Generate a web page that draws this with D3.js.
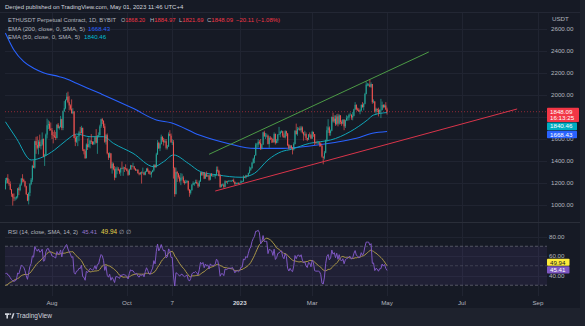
<!DOCTYPE html>
<html><head><meta charset="utf-8">
<script src="https://cdn.jsdelivr.net/npm/d3@7"></script>
<style>
html,body{margin:0;padding:0;background:#1e222d;}
svg{display:block;font-family:"Liberation Sans",Arial,sans-serif;}
</style></head><body>
<svg id="c" width="585" height="326"></svg>
<script>
// ---------------- DATA ----------------
const startDate = "2022-06-24";           // first visible daily candle
// closes before the first visible candle (only used to warm up RSI), May 26 – Jun 23 2022
const warmupCloses = [1790,1725,1795,1810,1995,1940,1820,1830,1775,1800,
  1805,1860,1815,1790,1790,1665,1530,1440,1210,1205,
  1235,1070,1085,995,1130,1125,1125,1050,1145];
// daily closes Jun 24 2022 – May 1 2023 (open = previous close)
const closes = [
  1225,1245,1200,1190,1140,1100,1070,                                   // Jun
  1060,1065,1075,1150,1135,1185,1240,1230,1215,1170, 1100,1040,1110,1190,1230,1355,1340,1580,1545,1520, 1575,1535,1550,1600,1440,1450,1640,1725,1735,1695, 1680, // Jul
  1635,1630,1620,1610,1730,1700,1710,1780,1700,1850, 1880,1955,1985,1935,1905,1875,1835,1850,1610,1575, 1620,1625,1660,1655,1700,1505,1490,1425,1550,1525, 1555, // Aug
  1585,1575,1555,1575,1615,1565,1630,1635,1715,1780, 1765,1715,1575,1635,1470,1430,1470,1335,1375,1325, 1250,1330,1330,1315,1295,1335,1330,1340,1335,1330, // Sep
  1310,1275,1325,1360,1350,1350,1330,1315,1320,1290, 1280,1295,1290,1295,1275,1305,1330,1310,1285,1280, 1300,1315,1365,1345,1460,1565,1515,1555,1620,1590, 1570, // Oct
  1580,1520,1530,1645,1630,1570,1570,1335,1100,1300, 1285,1255,1220,1245,1250,1215,1200,1210,1220,1140, 1110,1135,1185,1200,1200,1210,1195,1170,1215,1295, // Nov
  1275,1295,1240,1280,1260,1270,1230,1280,1265,1265, 1265,1275,1320,1310,1265,1165,1185,1185,1165,1215, 1210,1215,1220,1220,1220,1225,1210,1190,1200,1200, 1195, // Dec
  1200,1215,1215,1255,1250,1270,1265,1290,1320,1335, 1385,1420,1450,1550,1550,1575,1565,1515,1550,1660, 1625,1630,1630,1555,1610,1605,1600,1570,1645,1565, 1585, // Jan
  1640,1645,1665,1670,1630,1615,1670,1650,1545,1515, 1540,1515,1505,1555,1675,1645,1690,1695,1680,1705, 1660,1640,1645,1610,1595,1640,1635,1605, // Feb
  1665,1645,1570,1565,1565,1565,1560,1535,1440,1430, 1475,1590,1680,1705,1655,1675,1800,1760,1785,1735, 1805,1740,1815,1755,1740,1775,1715,1770,1790,1795, 1820, // Mar
  1820,1795,1810,1870,1910,1870,1865,1850,1860,1910, 1890,1920,2010,2095,2095,2095,2075,2100,1935,1940, 1850,1875,1865,1840,1865,1865,1910,1890,1905,1868.20, // Apr
  1848.09 // May 1
];
const highs = [
  1245,1250,1280,1235,1215,1145,1105,
  1105,1075,1080,1155,1165,1195,1245,1280,1240,1220, 1175,1100,1115,1200,1245,1365,1405,1585,1620,1625, 1590,1640,1590,1660,1605,1465,1650,1785,1770,1760, 1750,
  1700,1665,1680,1665,1735,1745,1720,1810,1785,1860, 1945,1960,2020,2030,1990,1915,1960,1880,1850,1640, 1630,1630,1675,1710,1720,1705,1510,1505,1560,1605, 1615,
  1590,1645,1580,1580,1625,1690,1635,1660,1730,1785, 1790,1770,1740,1645,1650,1475,1480,1470,1390,1385, 1355,1345,1350,1345,1325,1340,1395,1350,1345,1370,
  1335,1320,1330,1365,1360,1385,1355,1335,1325,1325, 1295,1300,1305,1340,1300,1310,1335,1340,1315,1310, 1305,1320,1370,1370,1475,1590,1575,1565,1640,1625, 1610,
  1600,1600,1545,1660,1680,1650,1600,1590,1345,1340, 1310,1290,1270,1290,1285,1265,1225,1230,1225,1220, 1145,1140,1190,1215,1205,1230,1230,1200,1225,1300,
  1300,1300,1300,1285,1305,1275,1270,1285,1290,1275, 1280,1280,1350,1350,1320,1280,1190,1195,1195,1225, 1220,1220,1225,1225,1225,1230,1240,1215,1205,1205, 1205,
  1205,1225,1220,1270,1260,1275,1270,1295,1350,1345, 1390,1430,1455,1565,1565,1600,1590,1600,1555,1665, 1675,1655,1650,1640,1625,1625,1615,1605,1660,1650, 1600,
  1645,1710,1675,1680,1675,1650,1680,1675,1655,1555, 1545,1545,1525,1570,1680,1740,1710,1705,1715,1720, 1715,1665,1675,1660,1610,1645,1660,1645,
  1675,1665,1645,1575,1585,1580,1575,1570,1545,1440, 1490,1595,1715,1780,1715,1685,1805,1840,1815,1815, 1825,1830,1825,1815,1770,1780,1780,1775,1815,1810, 1830,
  1840,1825,1845,1875,1935,1915,1885,1880,1870,1915, 1935,1925,2020,2125,2110,2105,2140,2115,2100,1960, 1945,1885,1875,1885,1870,1965,1940,1915,1915,1935,
  1884.97
];
const lows = [
  1140,1195,1195,1175,1135,1075,995,
  1035,1040,1050,1060,1090,1125,1175,1205,1205,1160, 1090,1035,1005,1080,1180,1210,1335,1330,1465,1505, 1460,1520,1505,1540,1435,1355,1445,1605,1690,1675, 1675,
  1600,1560,1610,1590,1605,1695,1685,1705,1680,1680, 1850,1870,1950,1925,1860,1860,1830,1825,1605,1535, 1565,1535,1580,1645,1650,1490,1460,1420,1425,1500, 1525,
  1515,1555,1545,1545,1550,1560,1465,1615,1630,1700, 1735,1700,1565,1550,1460,1410,1430,1330,1285,1315, 1225,1245,1280,1310,1280,1265,1325,1265,1300,1320,
  1305,1265,1270,1320,1320,1345,1320,1310,1310,1285, 1270,1275,1195,1285,1270,1270,1300,1300,1280,1275, 1250,1295,1305,1335,1340,1455,1510,1490,1550,1575, 1540,
  1565,1505,1505,1530,1625,1565,1545,1240,1075,1095, 1210,1240,1205,1180,1230,1200,1185,1195,1200,1130, 1075,1095,1130,1180,1175,1195,1190,1155,1165,1210,
  1265,1265,1235,1240,1255,1255,1220,1225,1260,1260, 1260,1240,1265,1295,1260,1155,1160,1175,1150,1160, 1200,1190,1210,1215,1210,1215,1205,1180,1185,1190, 1190,
  1190,1195,1205,1210,1245,1240,1260,1260,1285,1310, 1330,1375,1380,1450,1520,1525,1550,1500,1505,1545, 1620,1600,1615,1550,1520,1590,1565,1565,1570,1550, 1560,
  1565,1635,1615,1655,1615,1610,1605,1625,1535,1505, 1510,1510,1460,1495,1550,1640,1630,1680,1675,1660, 1650,1585,1625,1590,1580,1590,1615,1600,
  1600,1620,1545,1555,1560,1555,1530,1530,1430,1370, 1415,1470,1575,1655,1630,1630,1670,1750,1745,1720, 1725,1715,1730,1735,1720,1735,1680,1700,1765,1765, 1770,
  1815,1775,1770,1805,1865,1860,1855,1845,1825,1850, 1885,1860,1915,2005,2080,2080,2070,2065,1920,1925, 1840,1820,1845,1805,1830,1790,1860,1880,1885,1865,
  1821.69
];
// moving-average lines: [date, value]
const ema200Points = [
  ["2022-06-24",2564],["2022-07-01",2409],["2022-07-09",2303],["2022-07-17",2243],["2022-07-25",2203],
  ["2022-08-07",2166],["2022-08-13",2145],["2022-08-21",2106],["2022-09-09",2015],["2022-10-06",1879],
  ["2022-10-25",1773],["2022-11-06",1748],["2022-11-29",1636],["2022-12-24",1555],["2023-01-13",1515],
  ["2023-02-05",1515],["2023-02-27",1536],["2023-03-18",1566],["2023-04-06",1606],["2023-04-19",1652],
  ["2023-05-01",1668.43]
];
const ema50Points = [
  ["2022-06-24",1757],["2022-07-03",1606],["2022-07-15",1409],["2022-07-25",1439],["2022-08-03",1500],
  ["2022-08-13",1591],["2022-08-21",1645],["2022-09-01",1621],["2022-09-12",1621],["2022-09-20",1561],
  ["2022-10-06",1470],["2022-10-23",1348],["2022-10-31",1394],["2022-11-08",1455],["2022-11-20",1379],
  ["2022-11-30",1303],["2022-12-14",1273],["2023-01-02",1252],["2023-01-13",1288],["2023-01-24",1410],
  ["2023-02-04",1485],["2023-02-12",1506],["2023-02-27",1561],["2023-03-08",1576],["2023-03-16",1591],
  ["2023-04-01",1667],["2023-04-15",1773],["2023-04-20",1818],["2023-05-01",1840.46]
];
// drawn trend lines: [date, price]
const upperTrend = [["2022-12-07",1461],["2023-06-04",2391]];
const lowerTrend = [["2022-12-12",1127],["2023-08-15",1873]];
// axes
const priceTicks = [1000,1200,1400,1600,1800,2000,2200,2400,2600];
const rsiTicks = [40,60,80];
const rsiBands = [30,50,70];
const timeLabels = [["2022-08-01","Aug"],["2022-10-01","Oct"],["2022-11-07","7"],["2023-01-01","2023"],
  ["2023-03-01","Mar"],["2023-05-01","May"],["2023-07-01","Jul"],["2023-09-01","Sep"]];
const lastInfo = {open:1868.20, high:1884.97, low:1821.69, close:1848.09, change:"−20.11 (−1.08%)", countdown:"16:13:25"};
const ema200Last = 1668.43, ema50Last = 1840.46, rsiLast = 45.41, rsiMaLast = 49.94;

// ---------------- CHART ----------------
const N = 312;
if (closes.length!==N || highs.length!==N || lows.length!==N)
  throw new Error("len "+closes.length+" "+highs.length+" "+lows.length);

const parse = d3.utcParse("%Y-%m-%d");
const svg = d3.select("#c");
const BG="#161a25", FRAME="#1e222d", GRID="#202431", TXT="#b2b5be";
const UP="#26a69a", DN="#ef5350";
const L=5, R=547, PT=13, PB=222, RT=223, RB=296;

const x = d3.scaleUtc().domain([parse("2022-08-01"), parse("2023-09-01")]).range([52,538]);
const yP = d3.scaleLinear().domain([1000,2600]).range([205,29]);
const yR = d3.scaleLinear().domain([40,80]).range([275.5,236.5]);

svg.append("rect").attr("width",585).attr("height",326).attr("fill",FRAME);
svg.append("rect").attr("x",0).attr("y",0).attr("width",580).attr("height",308).attr("fill",BG);
svg.append("line").attr("x1",0).attr("x2",580).attr("y1",12.5).attr("y2",12.5).attr("stroke","#232734");

const defs = svg.append("defs");
defs.append("clipPath").attr("id","cp").append("rect").attr("x",L).attr("y",PT).attr("width",R-L).attr("height",PB-PT);
defs.append("clipPath").attr("id","cr").append("rect").attr("x",L).attr("y",RT).attr("width",R-L).attr("height",RB-RT);

// grid
const grid = svg.append("g").attr("stroke",GRID).attr("stroke-width",1);
priceTicks.forEach(p=>grid.append("line").attr("x1",L).attr("x2",R).attr("y1",Math.round(yP(p))+0.5).attr("y2",Math.round(yP(p))+0.5));
rsiTicks.forEach(v=>grid.append("line").attr("x1",L).attr("x2",R).attr("y1",Math.round(yR(v))+0.5).attr("y2",Math.round(yR(v))+0.5));
timeLabels.forEach(([d])=>grid.append("line").attr("x1",Math.round(x(parse(d)))+0.5).attr("x2",Math.round(x(parse(d)))+0.5).attr("y1",PT).attr("y2",RB));
svg.append("line").attr("x1",0).attr("x2",580).attr("y1",222.5).attr("y2",222.5).attr("stroke","#2a2e39");

// candles
const start = parse(startDate);
const candles = closes.map((c,i)=>({date:d3.utcDay.offset(start,i), o: i===0?warmupCloses[warmupCloses.length-1]:closes[i-1], c, h:highs[i], l:lows[i]}));
const pg = svg.append("g").attr("clip-path","url(#cp)");

// last-price dotted line
pg.append("line").attr("x1",L).attr("x2",R).attr("y1",yP(lastInfo.close)).attr("y2",yP(lastInfo.close))
  .attr("stroke","#f23645").attr("stroke-opacity",0.55).attr("stroke-dasharray","1,2");

// EMA lines
const lineGen = d3.line().x(d=>x(parse(d[0]))).y(d=>yP(d[1])).curve(d3.curveMonotoneX);
pg.append("path").attr("d",lineGen(ema200Points)).attr("fill","none").attr("stroke","#2962ff").attr("stroke-width",1.1);
pg.append("path").attr("d",lineGen(ema50Points)).attr("fill","none").attr("stroke","#10a5b8").attr("stroke-width",1);

pg.selectAll("line.w").data(candles).join("line").attr("class","w")
  .attr("x1",d=>x(d.date)).attr("x2",d=>x(d.date)).attr("y1",d=>yP(d.h)).attr("y2",d=>yP(d.l))
  .attr("stroke",d=>d.c>=d.o?UP:DN).attr("stroke-width",0.7);
pg.selectAll("rect.b").data(candles).join("rect").attr("class","b")
  .attr("x",d=>x(d.date)-0.5).attr("width",1)
  .attr("y",d=>yP(Math.max(d.o,d.c))).attr("height",d=>Math.max(0.6,Math.abs(yP(d.o)-yP(d.c))))
  .attr("fill",d=>d.c>=d.o?UP:DN);

// trend lines
const tl = d3.line().x(d=>x(parse(d[0]))).y(d=>yP(d[1]));
pg.append("path").attr("d",tl(upperTrend)).attr("stroke","#4c9a45").attr("stroke-width",1).attr("fill","none");
pg.append("path").attr("d",tl(lowerTrend)).attr("stroke","#d9344a").attr("stroke-width",1).attr("fill","none");

// RSI (Wilder, 14) and its SMA(14)
const all = warmupCloses.concat(closes);
const rsi = new Array(all.length).fill(null);
let ag=0, al=0;
for (let i=1;i<all.length;i++){
  const ch = all[i]-all[i-1], g=Math.max(ch,0), l=Math.max(-ch,0);
  if (i<=14){ ag+=g/14; al+=l/14; if(i===14) rsi[i]=100-100/(1+ag/al); }
  else { ag=(ag*13+g)/14; al=(al*13+l)/14; rsi[i]= al===0?100:100-100/(1+ag/al); }
}
const rsiMa = rsi.map((v,i)=>{ if(i<27) return null; return d3.mean(rsi.slice(i-13,i+1)); });
const off = warmupCloses.length;
const rsiSeries = candles.map((c,i)=>({date:c.date, v:rsi[i+off], m:rsiMa[i+off]}));
const rg = svg.append("g").attr("clip-path","url(#cr)");
rg.append("rect").attr("x",L).attr("width",R-L).attr("y",yR(70)).attr("height",yR(30)-yR(70)).attr("fill","rgba(126,87,194,0.1)");
rsiBands.forEach(v=>rg.append("line").attr("x1",L).attr("x2",R).attr("y1",yR(v)).attr("y2",yR(v))
  .attr("stroke","#787b86").attr("stroke-opacity",v===50?0.35:0.6).attr("stroke-dasharray","3,2"));
rg.append("path").attr("d",d3.line().defined(d=>d.m!=null).x(d=>x(d.date)).y(d=>yR(d.m))(rsiSeries))
  .attr("fill","none").attr("stroke","#b9a44a").attr("stroke-width",0.9);
rg.append("path").attr("d",d3.line().defined(d=>d.v!=null).x(d=>x(d.date)).y(d=>yR(d.v))(rsiSeries))
  .attr("fill","none").attr("stroke","#7e57c2").attr("stroke-width",1);

// text helper: fit a text to a target width by adjusting its font size
function fit(sel, width){
  const n = sel.node(); const w = n.getComputedTextLength();
  if (w>0){ const f = parseFloat(sel.attr("font-size")); sel.attr("font-size", (f*width/w).toFixed(2)); }
  return sel;
}

// axes labels
const fs = 6.2;
const ax = svg.append("g").attr("fill",TXT);
ax.append("text").attr("x",552).attr("y",21).attr("font-size",fs).text("USDT");
priceTicks.forEach(p=>ax.append("text").attr("x",551).attr("y",yP(p)).attr("dy","0.35em").attr("font-size",fs).text(d3.format(".2f")(p)));
rsiTicks.forEach(v=>ax.append("text").attr("x",549).attr("y",yR(v)).attr("dy","0.35em").attr("font-size",fs).text(d3.format(".2f")(v)));
timeLabels.forEach(([d,t])=>ax.append("text").attr("x",x(parse(d))).attr("y",303).attr("dy","0.35em").attr("font-size",fs)
  .attr("text-anchor","middle").attr("font-weight",t==="2023"?"bold":null).attr("fill",t==="2023"?"#d1d4dc":TXT).text(t));

// price axis value boxes
const yc = yP(lastInfo.close);
function box(y0,h,w,fill,lines,tc){
  svg.append("rect").attr("x",547).attr("y",y0).attr("width",w).attr("height",h).attr("fill",fill).attr("rx",0.8);
  lines.forEach((t,i)=>svg.append("text").attr("x",550).attr("y",y0+3.7+i*6.8).attr("dy","0.35em")
    .attr("font-size",fs).attr("fill",tc).text(t));
}
box(yc-4,14.3,32,"#f23645",[d3.format(".2f")(lastInfo.close),lastInfo.countdown],"#fff");
box(yc+10.9,7.6,30,"#00acc1",[d3.format(".2f")(ema50Last)],"#fff");
box(yc+19,7.6,30,"#2962ff",[d3.format(".2f")(ema200Last)],"#fff");
const yr = yR(rsiMaLast);
box(yr-7,7,22.5,"#fdea3b",[d3.format(".2f")(rsiMaLast)],"#131722");
box(yr+0.4,7.4,22.5,"#7e57c2",[d3.format(".2f")(rsiLast)],"#fff");

// header and legends
const hd = svg.append("g");
function t(xp,yp,str,col,len){ const e=hd.append("text").attr("x",xp).attr("y",yp).attr("fill",col).attr("font-size",fs).text(str); if(len) fit(e,len); return e; }
const RED="#f23645";
t(5,9,"Denjed published on TradingView.com, May 01, 2023 11:46 UTC+4","#d1d4dc",178);
t(8,22,"ETHUSDT Perpetual Contract, 1D, BYBIT",TXT,108);
function ohlc(xp,letter,val,len){ const e=hd.append("text").attr("x",xp).attr("y",22).attr("font-size",fs);
  e.append("tspan").attr("fill",TXT).text(letter); e.append("tspan").attr("fill",RED).text(d3.format(".2f")(val)); fit(e,len); }
ohlc(121,"O",lastInfo.open,24);
ohlc(150,"H",lastInfo.high,25.5);
ohlc(179,"L",lastInfo.low,24.5);
ohlc(207,"C",lastInfo.close,26);
t(236,22,lastInfo.change,RED,44);
t(8,31,"EMA (200, close, 0, SMA, 5)",TXT,77); t(88,31,d3.format(".2f")(ema200Last),"#2962ff",22);
t(8,38.5,"EMA (50, close, 0, SMA, 5)",TXT,72); t(84,38.5,d3.format(".2f")(ema50Last),"#00bcd4",22);
t(8,233.5,"RSI (14, close, SMA, 14, 2)",TXT,70); t(82,233.5,d3.format(".2f")(rsiLast),"#9575cd",15);
t(101,233.5,d3.format(".2f")(rsiMaLast),"#e6d34a",16);
t(119,233.5,"∅",TXT); t(126,233.5,"∅",TXT);

// TradingView footer
const ft = svg.append("g");
ft.append("path").attr("d","M5,313.3h4.4v1.6h-1.4v3.6h-1.6v-3.6h-1.4z").attr("fill","#d1d4dc");
ft.append("circle").attr("cx",10.4).attr("cy",314.1).attr("r",0.8).attr("fill","#d1d4dc");
ft.append("path").attr("d","M11.2,318.5l1.7,-5.2h1.6l-1.8,5.2z").attr("fill","#d1d4dc");
fit(ft.append("text").attr("x",16).attr("y",318.4).attr("font-size",7).attr("fill","#d1d4dc").text("TradingView"),36);
</script></body></html>
